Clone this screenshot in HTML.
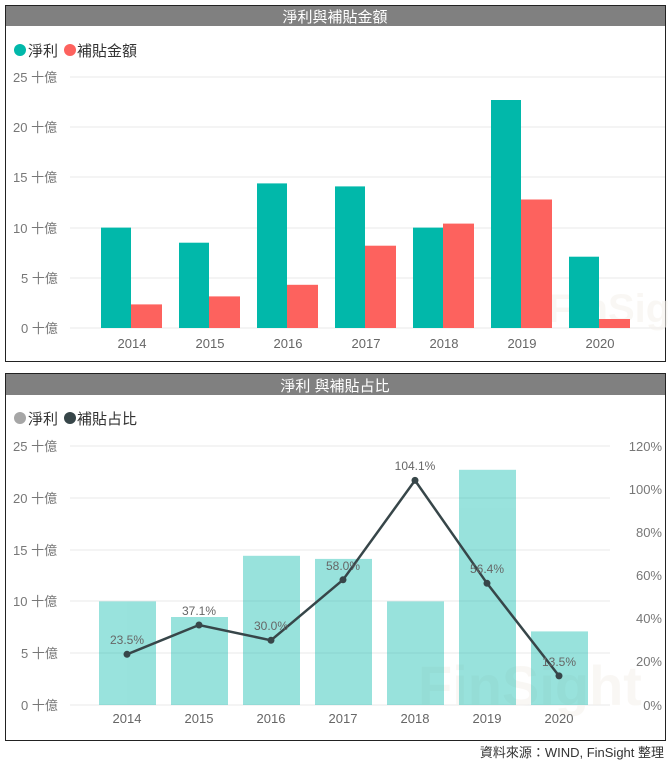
<!DOCTYPE html>
<html><head><meta charset="utf-8"><style>
body{margin:0;width:671px;height:764px;background:#fff;font-family:"Liberation Sans","Noto Sans CJK TC",sans-serif;overflow:hidden}
</style></head><body>
<svg width="671" height="764" xmlns="http://www.w3.org/2000/svg" font-family="Liberation Sans, Noto Sans CJK TC, sans-serif">
<!-- Chart 1 -->
<rect x="5.5" y="5.5" width="660" height="356" fill="#fff" stroke="#222" stroke-width="1"/>
<rect x="6" y="6" width="659" height="20" fill="#808080"/>
<text x="335" y="22" text-anchor="middle" fill="#fff" font-size="15">淨利與補貼金額</text>
<circle cx="20" cy="50" r="6" fill="#01b8aa"/><text x="28" y="56" font-size="15" fill="#333">淨利</text>
<circle cx="70" cy="50" r="6" fill="#fd625e"/><text x="77" y="56" font-size="15" fill="#333">補貼金額</text>
<g stroke="#e8e8e8" stroke-width="1">
<line x1="70" x2="665" y1="77" y2="77"/><line x1="70" x2="665" y1="127" y2="127"/><line x1="70" x2="665" y1="177" y2="177"/><line x1="70" x2="665" y1="228" y2="228"/><line x1="70" x2="665" y1="278" y2="278"/><line x1="70" x2="665" y1="328" y2="328"/></g>
<g font-size="13" fill="#777">
<text x="13" y="82">25 十億</text><text x="13" y="132">20 十億</text><text x="13" y="182">15 十億</text><text x="13" y="233">10 十億</text><text x="21" y="283">5 十億</text><text x="21" y="333">0 十億</text></g>
<text x="548" y="322" font-size="40" font-weight="bold" fill="#f6f3ee" opacity="0.6">FinSight</text>
<g fill="#01b8aa">
<rect x="101" y="227.6" width="30" height="100.4"/><rect x="179" y="242.7" width="30" height="85.3"/><rect x="257" y="183.4" width="30" height="144.6"/><rect x="335" y="186.4" width="30" height="141.6"/><rect x="413" y="227.6" width="30" height="100.4"/><rect x="491" y="100" width="30" height="228"/><rect x="569" y="256.7" width="30" height="71.3"/></g>
<g fill="#fd625e">
<rect x="131" y="304.4" width="31" height="23.6"/><rect x="209" y="296.4" width="31" height="31.6"/><rect x="287" y="284.8" width="31" height="43.2"/><rect x="365" y="245.7" width="31" height="82.3"/><rect x="443" y="223.6" width="31" height="104.4"/><rect x="521" y="199.5" width="31" height="128.5"/><rect x="599" y="319" width="31" height="9"/></g>
<g font-size="13" fill="#666" text-anchor="middle">
<text x="132" y="348">2014</text><text x="210" y="348">2015</text><text x="288" y="348">2016</text><text x="366" y="348">2017</text><text x="444" y="348">2018</text><text x="522" y="348">2019</text><text x="600" y="348">2020</text></g>

<!-- Chart 2 -->
<rect x="5.5" y="373.5" width="660" height="367" fill="#fff" stroke="#222" stroke-width="1"/>
<rect x="6" y="374" width="659" height="21" fill="#808080"/>
<text x="335" y="391" text-anchor="middle" fill="#fff" font-size="15">淨利 與補貼占比</text>
<circle cx="20" cy="418" r="6" fill="#a6a6a6"/><text x="28" y="424" font-size="15" fill="#333">淨利</text>
<circle cx="70" cy="418" r="6" fill="#374649"/><text x="77" y="424" font-size="15" fill="#333">補貼占比</text>
<g stroke="#e8e8e8" stroke-width="1">
<line x1="70" x2="610" y1="446" y2="446"/><line x1="70" x2="610" y1="498" y2="498"/><line x1="70" x2="610" y1="550" y2="550"/><line x1="70" x2="610" y1="601" y2="601"/><line x1="70" x2="610" y1="653" y2="653"/><line x1="70" x2="610" y1="705" y2="705"/></g>
<g font-size="13" fill="#777">
<text x="13" y="451">25 十億</text><text x="13" y="503">20 十億</text><text x="13" y="555">15 十億</text><text x="13" y="606">10 十億</text><text x="21" y="658">5 十億</text><text x="21" y="710">0 十億</text></g>
<g font-size="13" fill="#777" text-anchor="end">
<text x="662" y="451">120%</text><text x="662" y="494">100%</text><text x="662" y="537">80%</text><text x="662" y="580">60%</text><text x="662" y="623">40%</text><text x="662" y="666">20%</text><text x="662" y="710">0%</text></g>
<text x="418" y="705" font-size="56" font-weight="bold" fill="#f6f3ee" opacity="0.6">FinSight</text>
<g fill="#01b8aa" opacity="0.4">
<rect x="99" y="601.4" width="57" height="103.6"/><rect x="171" y="617" width="57" height="88"/><rect x="243" y="555.8" width="57" height="149.2"/><rect x="315" y="558.9" width="57" height="146.1"/><rect x="387" y="601.4" width="57" height="103.6"/><rect x="459" y="469.8" width="57" height="235.2"/><rect x="531" y="631.4" width="57" height="73.6"/></g>
<polyline fill="none" stroke="#374649" stroke-width="2.5" points="127,654.3 199,625 271,640.3 343,579.8 415,480.4 487,583.3 559,675.9"/>
<g fill="#374649">
<circle cx="127" cy="654.3" r="3.5"/><circle cx="199" cy="625" r="3.5"/><circle cx="271" cy="640.3" r="3.5"/><circle cx="343" cy="579.8" r="3.5"/><circle cx="415" cy="480.4" r="3.5"/><circle cx="487" cy="583.3" r="3.5"/><circle cx="559" cy="675.9" r="3.5"/></g>
<g font-size="12" fill="#666" text-anchor="middle">
<text x="127" y="644">23.5%</text><text x="199" y="615">37.1%</text><text x="271" y="630">30.0%</text><text x="343" y="570">58.0%</text><text x="415" y="470">104.1%</text><text x="487" y="573">56.4%</text><text x="559" y="666">13.5%</text></g>
<g font-size="13" fill="#666" text-anchor="middle">
<text x="127" y="723">2014</text><text x="199" y="723">2015</text><text x="271" y="723">2016</text><text x="343" y="723">2017</text><text x="415" y="723">2018</text><text x="487" y="723">2019</text><text x="559" y="723">2020</text></g>
<text x="664" y="757" font-size="13" fill="#333" text-anchor="end">資料來源：WIND, FinSight 整理</text>
</svg>
</body></html>
